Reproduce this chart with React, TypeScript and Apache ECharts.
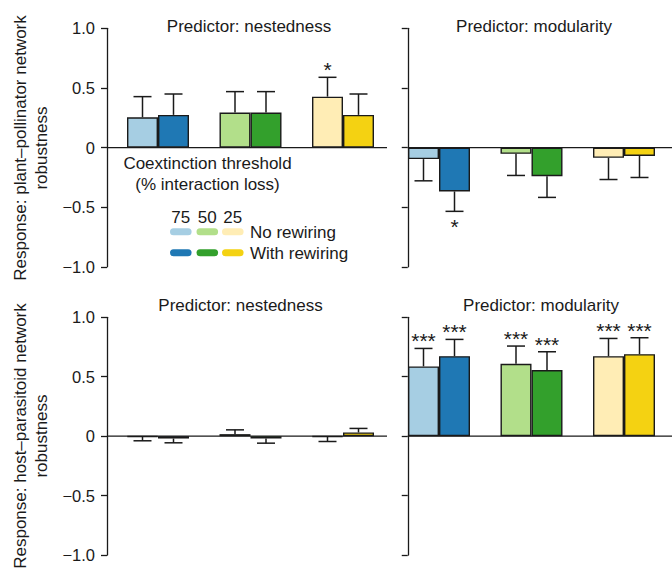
import React, { useEffect, useRef } from 'react';
import * as echarts from 'echarts';

// ---------- data ----------
const thresholds = ['75', '50', '25'];
const noRewiringColors = ['#a6cee3', '#b2df8a', '#ffedb5'];
const withRewiringColors = ['#1f78b4', '#33a02c', '#f4d212'];

// plant–pollinator, predictor nestedness
const ppNestNo = [0.254, 0.293, 0.427];
const ppNestNoErr = [0.427, 0.469, 0.589];
const ppNestNoSig = ['', '', '*'];
const ppNestWith = [0.274, 0.293, 0.274];
const ppNestWithErr = [0.449, 0.469, 0.449];
const ppNestWithSig = ['', '', ''];

// plant–pollinator, predictor modularity
const ppModNo = [-0.097, -0.053, -0.086];
const ppModNoErr = [-0.279, -0.234, -0.268];
const ppModNoSig = ['', '', ''];
const ppModWith = [-0.368, -0.24, -0.07];
const ppModWithErr = [-0.535, -0.418, -0.251];
const ppModWithSig = ['*', '', ''];

// host–parasitoid, predictor nestedness
const hpNestNo = [-0.005, 0.017, -0.005];
const hpNestNoErr = [-0.039, 0.053, -0.045];
const hpNestNoSig = ['', '', ''];
const hpNestWith = [-0.02, -0.02, 0.031];
const hpNestWithErr = [-0.056, -0.059, 0.065];
const hpNestWithSig = ['', '', ''];

// host–parasitoid, predictor modularity
const hpModNo = [0.587, 0.609, 0.673];
const hpModNoErr = [0.738, 0.758, 0.822];
const hpModNoSig = ['***', '***', '***'];
const hpModWith = [0.673, 0.556, 0.69];
const hpModWithErr = [0.814, 0.71, 0.828];
const hpModWithSig = ['***', '***', '***'];

// ---------- layout / style ----------
const FONT = '"Liberation Sans", Arial, Helvetica, sans-serif';
const INK = '#1a1a1a';
const BAR_W = 31;
const CAP_HALF = 9;
const STAR_SIZE = 21;

type Panel = {
  title: string;
  titleX: number;
  titleY: number;
  left: number;
  top: number;
  height: number;
  axisOffset: number;
  zeroEnd: number;
  showLabels: boolean;
  no: number[];
  noErr: number[];
  noSig: string[];
  wi: number[];
  wiErr: number[];
  wiSig: string[];
};

const panels: Panel[] = [
  {
    title: 'Predictor: nestedness', titleX: 249, titleY: 26,
    left: 111.75, top: 28.3, height: 238.5, axisOffset: 4.75, zeroEnd: 387, showLabels: true,
    no: ppNestNo, noErr: ppNestNoErr, noSig: ppNestNoSig,
    wi: ppNestWith, wiErr: ppNestWithErr, wiSig: ppNestWithSig,
  },
  {
    title: 'Predictor: modularity', titleX: 534, titleY: 26,
    left: 392.75, top: 28.3, height: 238.5, axisOffset: -15, zeroEnd: 672, showLabels: false,
    no: ppModNo, noErr: ppModNoErr, noSig: ppModNoSig,
    wi: ppModWith, wiErr: ppModWithErr, wiSig: ppModWithSig,
  },
  {
    title: 'Predictor: nestedness', titleX: 240.5, titleY: 305,
    left: 111.75, top: 317.3, height: 237.7, axisOffset: 4.75, zeroEnd: 387, showLabels: true,
    no: hpNestNo, noErr: hpNestNoErr, noSig: hpNestNoSig,
    wi: hpNestWith, wiErr: hpNestWithErr, wiSig: hpNestWithSig,
  },
  {
    title: 'Predictor: modularity', titleX: 541, titleY: 305,
    left: 392.75, top: 317.3, height: 237.7, axisOffset: -15, zeroEnd: 672, showLabels: false,
    no: hpModNo, noErr: hpModNoErr, noSig: hpModNoSig,
    wi: hpModWith, wiErr: hpModWithErr, wiSig: hpModWithSig,
  },
];

const fmtTick = (v: number) =>
  v === 0 ? '0' : (v < 0 ? '\u2212' : '') + Math.abs(v).toFixed(1);

function textEl(text: string, x: number, y: number, align: string, size = 17, extra: any = {}) {
  return {
    type: 'text',
    x,
    y,
    ...extra,
    style: {
      text,
      fill: INK,
      fontSize: size,
      fontFamily: FONT,
      textAlign: align,
      align,
      textVerticalAlign: 'middle',
      verticalAlign: 'middle',
      lineHeight: 21,
    },
  };
}

function buildOption() {
  const grid: any[] = [];
  const xAxis: any[] = [];
  const yAxis: any[] = [];
  const series: any[] = [];

  panels.forEach((p, i) => {
    grid.push({ left: p.left, top: p.top, width: 277.5, height: p.height });
    xAxis.push({
      type: 'category',
      gridIndex: i,
      data: thresholds,
      axisLine: { show: false },
      axisTick: { show: false },
      axisLabel: { show: false },
      splitLine: { show: false },
    });
    yAxis.push({
      type: 'value',
      gridIndex: i,
      min: -1,
      max: 1,
      interval: 0.5,
      offset: p.axisOffset,
      axisLine: { show: true, lineStyle: { color: INK, width: 1.3 } },
      axisTick: { show: true, length: 6, lineStyle: { color: INK, width: 1.3 } },
      splitLine: { show: false },
      axisLabel: {
        show: p.showLabels,
        margin: 12,
        formatter: fmtTick,
        color: INK,
        fontSize: 16.5,
        fontFamily: FONT,
      },
    });

    // zero line
    series.push({
      type: 'custom',
      xAxisIndex: i,
      yAxisIndex: i,
      z: 1,
      silent: true,
      data: [[0, 0]],
      renderItem: (params: any, api: any) => {
        const cs = params.coordSys;
        const y = api.coord([0, 0])[1];
        return {
          type: 'line',
          shape: { x1: cs.x - p.axisOffset, y1: y, x2: p.zeroEnd, y2: y },
          style: { stroke: INK, lineWidth: 1.3 },
        };
      },
    });

    const barStyle = { borderColor: INK, borderWidth: 1.4 };
    series.push({
      name: 'No rewiring',
      type: 'bar',
      xAxisIndex: i,
      yAxisIndex: i,
      barWidth: BAR_W,
      barGap: '0%',
      z: 2,
      data: p.no.map((v, k) => ({ value: v, itemStyle: { ...barStyle, color: noRewiringColors[k] } })),
    });
    series.push({
      name: 'With rewiring',
      type: 'bar',
      xAxisIndex: i,
      yAxisIndex: i,
      barWidth: BAR_W,
      barGap: '0%',
      z: 2,
      data: p.wi.map((v, k) => ({ value: v, itemStyle: { ...barStyle, color: withRewiringColors[k] } })),
    });

    // error bars + significance
    const errData: number[][] = [];
    const sigs: string[] = [];
    p.no.forEach((v, k) => { errData.push([k, 0, v, p.noErr[k]]); sigs.push(p.noSig[k]); });
    p.wi.forEach((v, k) => { errData.push([k, 1, v, p.wiErr[k]]); sigs.push(p.wiSig[k]); });
    series.push({
      type: 'custom',
      xAxisIndex: i,
      yAxisIndex: i,
      z: 3,
      silent: true,
      encode: { x: 0, y: [2, 3] },
      data: errData,
      renderItem: (params: any, api: any) => {
        const cat = api.value(0);
        const s = api.value(1);
        const v = api.value(2);
        const e = api.value(3);
        const base = api.coord([cat, v]);
        const end = api.coord([cat, e]);
        const x = base[0] + (s === 0 ? -1 : 1) * BAR_W / 2;
        const lineStyle = { stroke: INK, lineWidth: 1.5 };
        const children: any[] = [
          { type: 'line', shape: { x1: x, y1: base[1], x2: x, y2: end[1] }, style: lineStyle },
          { type: 'line', shape: { x1: x - CAP_HALF, y1: end[1], x2: x + CAP_HALF, y2: end[1] }, style: lineStyle },
        ];
        const sig = sigs[params.dataIndex];
        if (sig) {
          const ty = e >= v ? end[1] - 7.5 : end[1] + 15;
          children.push(textEl(sig, x, ty, 'center', STAR_SIZE));
        }
        return { type: 'group', children };
      },
    });
  });

  // titles, axis titles, legend
  const graphic: any[] = [];
  panels.forEach((p) => graphic.push(textEl(p.title, p.titleX, p.titleY, 'center', 17)));
  graphic.push(textEl('Response: plant\u2013pollinator network\nrobustness', 31, 148, 'center', 17, { rotation: Math.PI / 2 }));
  graphic.push(textEl('Response: host\u2013parasitoid network\nrobustness', 31, 436, 'center', 17, { rotation: Math.PI / 2 }));

  graphic.push(textEl('Coextinction threshold', 207.5, 163, 'center', 17));
  graphic.push(textEl('(% interaction loss)', 207.5, 184, 'center', 17));
  const pillX = [170, 196.5, 222];
  thresholds.forEach((t, k) => {
    graphic.push(textEl(t, pillX[k] + 10.8, 217, 'center', 17));
    graphic.push({
      type: 'rect',
      shape: { x: pillX[k], y: 228.2, width: 21.6, height: 7, r: 3.5 },
      style: { fill: noRewiringColors[k] },
    });
    graphic.push({
      type: 'rect',
      shape: { x: pillX[k], y: 249.2, width: 21.6, height: 7, r: 3.5 },
      style: { fill: withRewiringColors[k] },
    });
  });
  graphic.push(textEl('No rewiring', 250, 232, 'left', 17));
  graphic.push(textEl('With rewiring', 250, 253, 'left', 17));

  return {
    animation: false,
    backgroundColor: '#ffffff',
    grid,
    xAxis,
    yAxis,
    series,
    graphic,
  };
}

export default function App() {
  const ref = useRef<HTMLDivElement>(null);
  useEffect(() => {
    document.body.style.margin = '0';
    if (!ref.current) return;
    const chart = echarts.init(ref.current, null, { renderer: 'svg' });
    chart.setOption(buildOption() as any);
    return () => chart.dispose();
  }, []);
  return <div ref={ref} style={{ width: 672, height: 569 }} />;
}
